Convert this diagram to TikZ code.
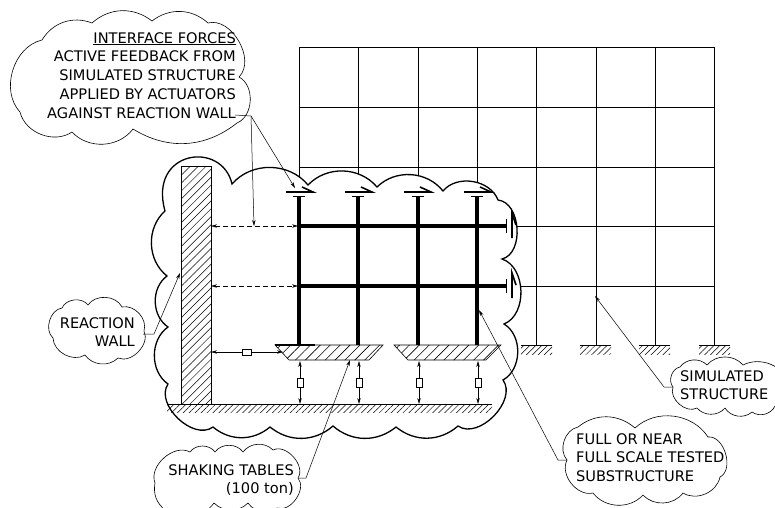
\documentclass[tikz,border=0pt]{standalone}
\usepackage{fontspec}
\setmainfont{DejaVu Sans}
\usetikzlibrary{arrows.meta, patterns.meta, positioning}

\begin{document}
\begin{tikzpicture}[
	x=1pt, y=-1pt,
	>={Stealth[length=6pt, width=3.4pt]},
	% Define styles
	gridline/.style={draw=black, line width=0.6pt},
	framebar/.style={draw=black, line width=4.4pt},
	thickcloud/.style={draw=black, line width=1.3pt, fill=white},
	thincloud/.style={draw=black, line width=0.6pt, fill=white},
	puff/.style={bend left=#1},
	puff/.default=55,
	outerpuff/.style={bend right=#1},
	calloutlabel/.style={font=\fontsize{14.6}{18.8}\selectfont, align=left, inner sep=0pt},
	leader/.style={->, draw=black, line width=0.5pt},
	gapline/.style={<->, draw=black, line width=0.5pt},
	gapdashed/.style={<->, draw=black, line width=0.5pt, dash pattern=on 5pt off 3pt},
	damperbox/.style={draw=black, fill=white, line width=0.5pt, inner sep=0pt},
	wallhatch/.style={pattern={Lines[angle=45, distance=5.6pt, line width=0.5pt]}},
	tablehatch/.style={pattern={Lines[angle=45, distance=7pt, line width=0.6pt]}},
	groundhatch/.style={pattern={Lines[angle=45, distance=4.2pt, line width=0.5pt]}},
	forcearrow/.style={draw=black, line width=1.6pt}
	]
	
	\clip (0,0) rectangle (775,507);
	
	% Simulated structure
	\draw[gridline] (299,47) -- (714,47);
	\draw[gridline] (299,107) -- (714,107);
	\draw[gridline] (299,167) -- (714,167);
	\draw[gridline] (299,226) -- (714,226);
	\draw[gridline] (299,286) -- (714,286);
	\draw[gridline] (299,47) -- (299,345);
	\draw[gridline] (358,47) -- (358,345);
	\draw[gridline] (418,47) -- (418,345);
	\draw[gridline] (477,47) -- (477,345);
	\draw[gridline] (536,47) -- (536,345);
	\draw[gridline] (596,47) -- (596,345);
	\draw[gridline] (655,47) -- (655,345);
	\draw[gridline] (714,47) -- (714,345);
	
	% Supports of the simulated structure
	\fill[groundhatch] (521,345) rectangle (552,354);
	\fill[groundhatch] (580,345) rectangle (611,354);
	\fill[groundhatch] (639,345) rectangle (670,354);
	\fill[groundhatch] (699,345) rectangle (730,354);
	\draw[gridline] (521,345) -- (552,345);
	\draw[gridline] (580,345) -- (611,345);
	\draw[gridline] (639,345) -- (670,345);
	\draw[gridline] (699,345) -- (730,345);
	
	% Laboratory outline
	\draw[thickcloud] (232,184) .. controls (222,140) and (148,150) .. (165,211) to[outerpuff=50] (167,276)
		to[outerpuff=55] (168,327) to[outerpuff=55] (168,384) to[outerpuff=80] (213,427)
		to[outerpuff=40] (270,427) to[outerpuff=40] (333,426) to[outerpuff=40] (396,427)
		to[outerpuff=40] (458,426) to[outerpuff=80] (503,380) to[outerpuff=60] (504,324)
		to[outerpuff=70] (502,259) to[outerpuff=80] (498,200) to[outerpuff=60] (443,191)
		to[outerpuff=48] (377,187) to[outerpuff=48] (308,185) to[outerpuff=50] (232,184) -- cycle;
	
	% Reaction wall
	\filldraw[wallhatch, draw=black, line width=0.7pt] (181,166) rectangle (211,404);
	
	% Laboratory floor
	\fill[groundhatch] (167,404) rectangle (492,412);
	\draw[black, line width=0.8pt] (167,404) -- (492,404);
	
	% Tested frame
	\draw[framebar] (299,197) -- (299,345);
	\draw[framebar] (358,197) -- (358,345);
	\draw[framebar] (418,197) -- (418,345);
	\draw[framebar] (477,197) -- (477,345);
	\draw[framebar] (299,226) -- (506,226);
	\draw[framebar] (299,286) -- (506,286);
	
	% Shaking tables
	\filldraw[tablehatch, draw=black, line width=0.6pt] (275,345) -- (383,345) -- (369,360) -- (289,360) -- cycle;
	\filldraw[tablehatch, draw=black, line width=0.6pt] (394,345) -- (501,345) -- (486,360) -- (408,360) -- cycle;
	\draw[black, line width=1.2pt] (275,345) -- (315,345);
	
	% Column top plates and forces
	\draw[gridline] (293,196) -- (305,196);
	\draw[gridline] (352,196) -- (364,196);
	\draw[gridline] (412,196) -- (424,196);
	\draw[gridline] (471,196) -- (483,196);
	\draw[forcearrow] (286,192) -- (313,192) -- (302,187);
	\draw[forcearrow] (345,192) -- (372,192) -- (361,187);
	\draw[forcearrow] (404,192) -- (431,192) -- (420,187);
	\draw[forcearrow] (464,192) -- (491,192) -- (480,187);
	
	% Beam end plates and forces
	\draw[gridline] (506,219) -- (506,233);
	\draw[gridline] (506,279) -- (506,293);
	\draw[forcearrow] (512,238) -- (512,213) -- (516,225);
	\draw[forcearrow] (512,298) -- (512,273) -- (516,285);
	
	% Gaps between wall and specimen
	\coordinate (walltop) at (211,226);
	\coordinate (wallmid) at (211,286);
	\coordinate (walllow) at (211,352);
	\coordinate (frametop) at (298,226);
	\coordinate (framemid) at (298,286);
	\coordinate (tablelow) at (283,352);
	\draw[gapdashed] (walltop) -- (frametop);
	\draw[gapdashed] (wallmid) -- (framemid);
	\draw[gapline] (walllow) -- node[damperbox, minimum width=9pt, minimum height=6pt] (damperh) {} (tablelow);
	
	% Table actuators
	\coordinate (tablea) at (300,361);
	\coordinate (tableb) at (359,361);
	\coordinate (tablec) at (419,361);
	\coordinate (tabled) at (478,361);
	\coordinate (floora) at (300,404);
	\coordinate (floorb) at (359,404);
	\coordinate (floorc) at (419,404);
	\coordinate (floord) at (478,404);
	\draw[gapline] (tablea) -- node[damperbox, minimum width=6pt, minimum height=9pt] (dampera) {} (floora);
	\draw[gapline] (tableb) -- node[damperbox, minimum width=6pt, minimum height=9pt] (damperb) {} (floorb);
	\draw[gapline] (tablec) -- node[damperbox, minimum width=6pt, minimum height=9pt] (damperc) {} (floorc);
	\draw[gapline] (tabled) -- node[damperbox, minimum width=6pt, minimum height=9pt] (damperd) {} (floord);
	
	% Callout clouds
	\draw[thincloud] (42,40) to[puff=40] (92,23) to[puff=40] (152,21) to[puff=40] (208,23)
		to[puff=75] (239,77) to[puff=65] (237,123) to[puff=35] (133,129)
		to[puff=50] (72,132) to[puff=55] (20,112) to[puff=60] (42,40) -- cycle;
	\draw[thincloud] (62,308) to[puff=60] (88,305) to[puff=60] (122,307) to[puff=60] (144,331)
		to[puff=70] (118,358) to[puff=50] (85,355) to[puff=60] (53,338) to[puff=65] (62,308) -- cycle;
	\draw[thincloud] (155,483) to[puff=70] (190,452) to[puff=55] (215,452) to[puff=55] (243,452)
		to[puff=50] (273,450) to[puff=75] (298,478) to[puff=75] (277,508) to[puff=45] (248,503)
		to[puff=45] (214,503) to[puff=45] (165,510) to[puff=30] (155,483) -- cycle;
	\draw[thincloud] (680,367) to[puff=50] (707,365) to[puff=50] (743,365) to[puff=50] (790,385)
		to[puff=50] (775,406) to[puff=50] (752,412) to[puff=50] (725,408) to[puff=50] (697,408)
		to[puff=70] (673,387) to[puff=60] (680,367) -- cycle;
	\draw[thincloud] (567,460) to[puff=60] (578,427) to[puff=40] (635,428) to[puff=50] (708,437)
		to[puff=80] (720,477) to[puff=55] (683,493) to[puff=50] (643,495) to[puff=50] (593,493)
		to[puff=65] (567,460) -- cycle;
	
	% Callout texts
	\node[calloutlabel, align=right, anchor=north east] (forcetext) at (236,32) {\underline{INTERFACE FORCES}\\ACTIVE FEEDBACK FROM\\SIMULATED STRUCTURE\\APPLIED BY ACTUATORS\\AGAINST REACTION WALL};
	\node[calloutlabel, align=right, anchor=north east] (walltext) at (135,317) {REACTION\\WALL};
	\node[calloutlabel, align=right, anchor=north east] (tabletext) at (294,464) {SHAKING TABLES\\(100 ton)};
	\node[calloutlabel, anchor=north west] (structuretext) at (680,370) {SIMULATED\\STRUCTURE};
	\node[calloutlabel, anchor=north west] (substructuretext) at (576,433) {FULL OR NEAR\\FULL SCALE TESTED\\SUBSTRUCTURE};
	
	% Leader lines
	\coordinate (forceroot) at (235,115);
	\coordinate (forceknee) at (251,116);
	\coordinate (forcetip) at (295,188);
	\coordinate (gaptip) at (254,226);
	\coordinate (wallroot) at (143,334);
	\coordinate (wallknee) at (154,334);
	\coordinate (walltip) at (180,273);
	\coordinate (tableroot) at (298,478);
	\coordinate (tableknee) at (306,478);
	\coordinate (tabletip) at (350,360);
	\coordinate (structureroot) at (673,387);
	\coordinate (structureknee) at (664,387);
	\coordinate (structuretip) at (595,296);
	\coordinate (substructureroot) at (567,460);
	\coordinate (substructureknee) at (558,460);
	\coordinate (substructuretip) at (479,310);
	\draw[leader] (forceroot) -- (forceknee) -- (forcetip);
	\draw[leader] (forceknee) -- (gaptip);
	\draw[leader] (wallroot) -- (wallknee) -- (walltip);
	\draw[leader] (tableroot) -- (tableknee) -- (tabletip);
	\draw[leader] (structureroot) -- (structureknee) -- (structuretip);
	\draw[leader] (substructureroot) -- (substructureknee) -- (substructuretip);
	
\end{tikzpicture}
\end{document}
